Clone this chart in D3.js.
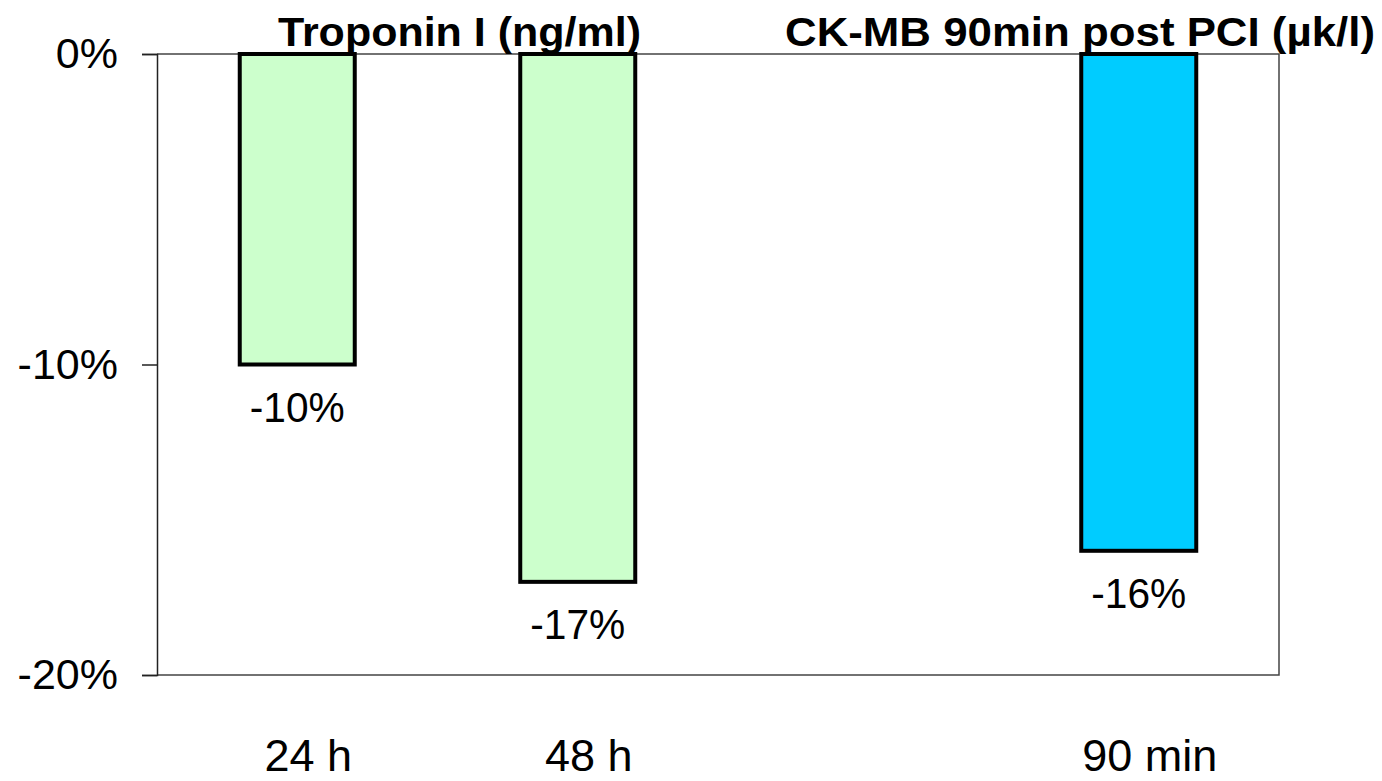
<!DOCTYPE html>
<html>
<head>
<meta charset="utf-8">
<script src="https://cdn.jsdelivr.net/npm/d3@7"></script>
<style>
  html, body { margin: 0; padding: 0; background: #fff; }
  svg { display: block; }
  text { font-family: "Liberation Sans", Arial, sans-serif; fill: #000; }
</style>
</head>
<body>
<svg id="chart" width="1382" height="781"></svg>
<script>
// Percentage change per time point (blank slot separates the two markers)
const categories = ["24 h", "48 h", "", "90 min"];
const values = [-10, -17, null, -16];
const barColors = ["#ccffcc", "#ccffcc", null, "#00ccff"];
const yTicks = [0, -10, -20];
const titles = ["Troponin I (ng/ml)", "CK-MB 90min post PCI (µk/l)"];

const svg = d3.select("#chart");
const plot = { left: 157, right: 1279, top: 54, bottom: 675 };

const keys = categories.map((c, i) => i);
const x = d3.scaleBand()
  .domain(keys)
  .range([plot.left, plot.right])
  .paddingInner(0.59)
  .paddingOuter(0.295);

const y = d3.scaleLinear()
  .domain([0, -20])
  .range([plot.top, plot.bottom]);

const pct = d => d + "%";

// Plot frame (top, right, bottom)
svg.append("path")
  .attr("d", `M${plot.left},${plot.top}H${plot.right}V${plot.bottom}H${plot.left}`)
  .attr("fill", "none")
  .attr("stroke", "#444")
  .attr("stroke-width", 1.5);

// Value axis
const yAxis = d3.axisLeft(y)
  .tickValues(yTicks)
  .tickFormat(pct)
  .tickSize(15)
  .tickPadding(24);

const gy = svg.append("g")
  .attr("transform", `translate(${plot.left},0)`)
  .call(yAxis);
gy.select(".domain").attr("stroke", "#222").attr("stroke-width", 1.5);
gy.selectAll(".tick line").attr("stroke", "#222").attr("stroke-width", 1.5);
gy.selectAll(".tick text")
  .attr("font-size", 43)
  .attr("font-family", "Liberation Sans, Arial, sans-serif")
  .attr("fill", "#000");

// Bars
const data = keys.map(i => ({ key: i, cat: categories[i], v: values[i], color: barColors[i] }));
const bars = data.filter(d => d.v !== null);

svg.append("g").selectAll("rect")
  .data(bars)
  .enter().append("rect")
  .attr("x", d => x(d.key))
  .attr("y", d => y(0))
  .attr("width", x.bandwidth())
  .attr("height", d => y(d.v) - y(0))
  .attr("fill", d => d.color)
  .attr("stroke", "#000")
  .attr("stroke-width", 4);

// Value labels under each bar
svg.append("g").selectAll("text")
  .data(bars)
  .enter().append("text")
  .attr("x", d => x(d.key) + x.bandwidth() / 2)
  .attr("y", d => y(d.v) + 57)
  .attr("text-anchor", "middle")
  .attr("font-size", 42)
  .attr("textLength", 95)
  .attr("lengthAdjust", "spacingAndGlyphs")
  .text(d => pct(d.v));

// Category labels
svg.append("g").selectAll("text")
  .data(data.filter(d => d.cat))
  .enter().append("text")
  .attr("x", d => x(d.key) + x.bandwidth() / 2 + 11)
  .attr("y", 771)
  .attr("text-anchor", "middle")
  .attr("font-size", 45)
  .text(d => d.cat);

// Marker titles above the plot
const titleBoxes = [
  { text: titles[0], x: 278, len: 363 },
  { text: titles[1], x: 785, len: 590 }
];
svg.append("g").selectAll("text")
  .data(titleBoxes)
  .enter().append("text")
  .attr("x", d => d.x)
  .attr("y", 46)
  .attr("font-size", 41)
  .attr("font-weight", "bold")
  .attr("textLength", d => d.len)
  .attr("lengthAdjust", "spacingAndGlyphs")
  .text(d => d.text);
</script>
</body>
</html>
